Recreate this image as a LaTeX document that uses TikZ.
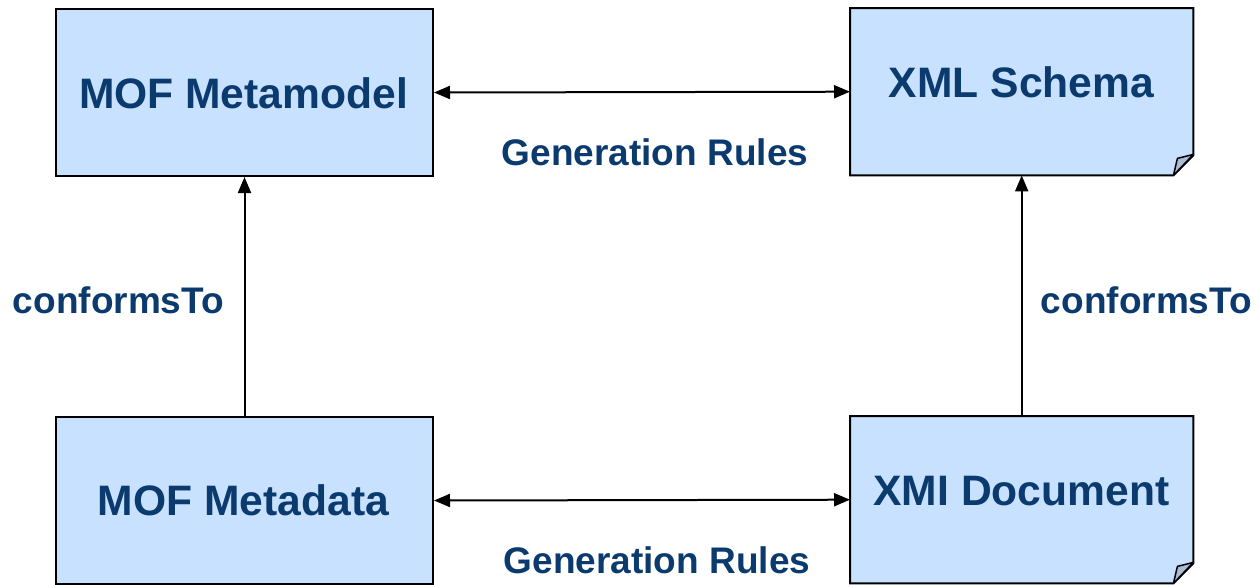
\documentclass[tikz,border=0pt]{standalone}
\usepackage{fontspec}
\setmainfont{Liberation Sans}
\usetikzlibrary{arrows.meta}
\definecolor{boxfill}{HTML}{C7E1FF}
\definecolor{foldfill}{HTML}{A9BCD4}
\definecolor{navy}{HTML}{0B3A6E}
\tikzset{
  boxshape/.style={draw=black, line width=2pt, fill=boxfill, minimum width=377pt, minimum height=167pt, inner sep=0pt, anchor=north west},
  docbox/.style={draw=none, minimum width=343pt, minimum height=167pt, inner sep=0pt, anchor=north west},
  boxtext/.style={font=\bfseries\fontsize{42.6}{48}\selectfont, text=navy, anchor=base, inner sep=0pt},
  lbl/.style={font=\bfseries\fontsize{37}{42}\selectfont, text=navy, anchor=base, inner sep=0pt},
  conn/.style={line width=2pt, {Triangle[length=16pt,width=13pt]}-{Triangle[length=16pt,width=13pt]}},
  upconn/.style={line width=2pt, -{Triangle[length=16pt,width=13pt]}}
}
\begin{document}
\begin{tikzpicture}[x=1pt,y=-1pt]
\useasboundingbox (0,0) rectangle (1259,584);
% boxes
\node[boxshape] (mm) at (55,8) {};
\node[boxshape] (md) at (55,416) {};
\node[docbox] (xs) at (850,8) {};
\node[docbox] (xd) at (850,416) {};
\foreach \b in {xs,xd}{
  \draw[line width=2pt, fill=boxfill, line join=miter]
    (\b.north west) -- (\b.north east) -- ([yshift=20pt]\b.south east)
    -- ([xshift=-20pt]\b.south east) -- (\b.south west) -- cycle;
  \draw[line width=1.5pt, fill=foldfill, line join=round]
    ([xshift=-20pt]\b.south east) -- ([xshift=-16pt,yshift=17pt]\b.south east)
    -- ([yshift=21pt]\b.south east) -- cycle;
}
% box texts
\node[boxtext] (tmm) at (243.5,108) {MOF Metamodel};
\node[boxtext] (txs) at (1021.5,97) {XML Schema};
\node[boxtext] (tmd) at (243.5,515) {MOF Metadata};
\node[boxtext] (txd) at (1021.5,505) {XMI Document};
% connectors
\draw[conn] (mm.east) -- (xs.west);
\draw[conn] (md.east) -- (xd.west);
\draw[upconn] (md.north) -- (mm.south);
\draw[upconn] (xd.north) -- (xs.south);
% labels
\node[lbl] (g1) at (655,165) {Generation Rules};
\node[lbl] (g2) at (657,573) {Generation Rules};
\node[lbl] (c1) at (118.5,313) {conformsTo};
\node[lbl] (c2) at (1146.5,313) {conformsTo};
\end{tikzpicture}
\end{document}
